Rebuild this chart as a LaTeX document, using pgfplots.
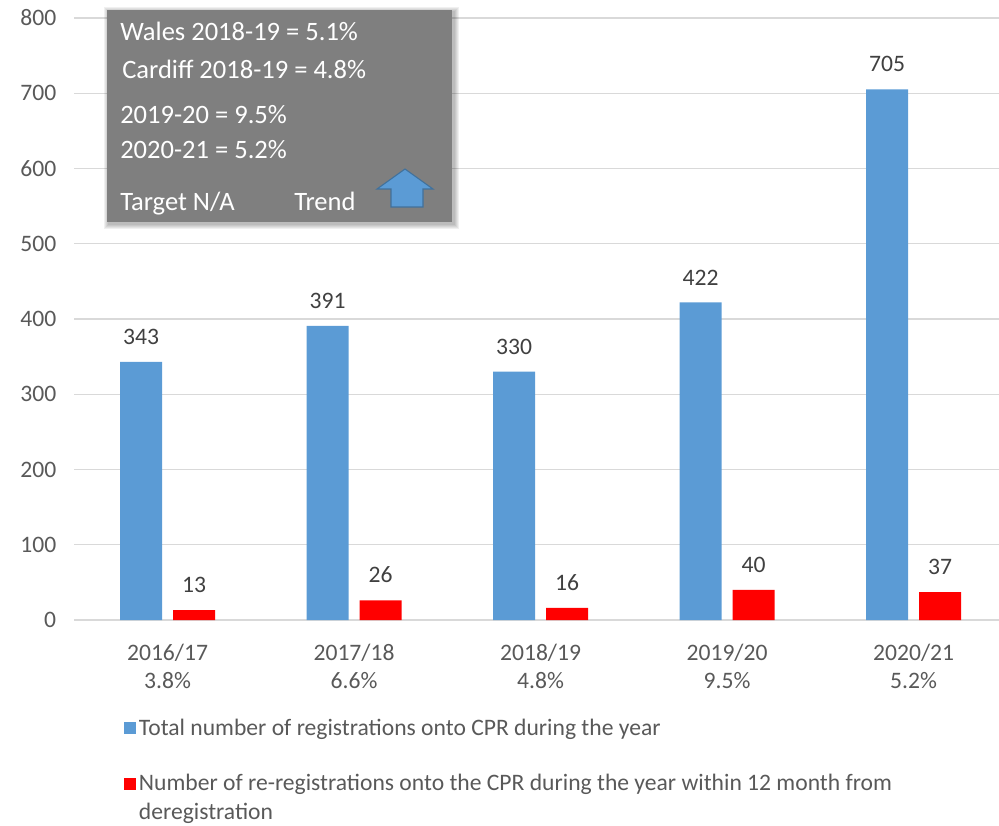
\documentclass[border=0pt]{standalone}
\usepackage{fontspec}
\setmainfont{Carlito}
\usepackage{pgfplots}
\pgfplotsset{compat=1.18}
\definecolor{cblue}{HTML}{5B9BD5}
\definecolor{cred}{HTML}{FF0000}
\definecolor{gridc}{HTML}{D9D9D9}
\definecolor{tickc}{HTML}{595959}
\definecolor{labc}{HTML}{404040}
\definecolor{boxc}{HTML}{7F7F7F}
\definecolor{arrowb}{HTML}{41719C}
\begin{document}
\begin{tikzpicture}
\useasboundingbox (0,0) rectangle (749.25pt,618.75pt);
\begin{axis}[
  at={(55.69pt,153.75pt)}, anchor=south west,
  scale only axis, width=693.56pt, height=451.5pt,
  ybar, bar width=31.5pt,
  xmin=-0.5, xmax=4.458, ymin=0, ymax=800,
  xtick={0,1,2,3,4},
  xticklabels={{2016/17\\3.8\%},{2017/18\\6.6\%},{2018/19\\4.8\%},{2019/20\\9.5\%},{2020/21\\5.2\%}},
  xticklabel style={align=center, yshift=-14.5pt},
  yticklabel style={xshift=-10pt},
  ytick={0,100,...,800},
  ymajorgrids, grid style={gridc, line width=1pt},
  axis x line*=bottom, axis y line*=left,
  x axis line style={gridc, line width=1.2pt, -},
  y axis line style={draw=none},
  major tick length=0pt,
  tick label style={font=\fontsize{17.7}{21}\selectfont, text=tickc},
  /pgf/number format/assume math mode=true,
  nodes near coords,
  nodes near coords style={font=\fontsize{17.7}{21}\selectfont, text=labc, yshift=9.5pt},
  legend style={at={(0.0495,-0.157)}, anchor=north west, draw=none, fill=none,
    font=\fontsize{17.7}{21}\selectfont, text=tickc, row sep=6pt,
    nodes={inner xsep=2pt, inner ysep=1pt}},
  legend cell align=left,
]
\addplot[fill=cblue, draw=none, bar shift=-19.875pt,
  legend image code/.code={\fill[cblue] (0pt,-4.5pt) rectangle (9pt,4.5pt);}]
  coordinates {(0,343) (1,391) (2,330) (3,422) (4,705)};
\addlegendentry{Total number of registrations onto CPR during the year}
\addlegendimage{empty legend}
\addlegendentry{\rule[-3pt]{0pt}{13.5pt}}
\addplot[fill=cred, draw=none, bar shift=19.875pt,
  legend image code/.code={\fill[cred] (0pt,-4.5pt) rectangle (9pt,4.5pt);}]
  coordinates {(0,13) (1,26) (2,16) (3,40) (4,37)};
\addlegendentry{Number of re-registrations onto the CPR during the year within 12 month from}
\addlegendimage{empty legend}
\addlegendentry{deregistration}
\end{axis}
% info box with soft shadow
\foreach \s in {1,2,3,4,5}{
  \fill[black, opacity=0.06] ({80.25pt-\s*0.8pt+1.5pt},{452.25pt-\s*0.8pt-1.5pt}) rectangle ({339pt+\s*0.8pt+1.5pt},{611.25pt+\s*0.8pt-1.5pt});
}
\fill[boxc] (80.25pt,452.25pt) rectangle (339pt,611.25pt);
\begin{scope}[every node/.style={anchor=base west, text=white, font=\fontsize{19.9}{24}\selectfont, inner sep=0pt}]
\node at (90pt,588.4pt) {Wales 2018-19 = 5.1\%};
\node at (91.5pt,559.9pt) {Cardiff 2018-19 = 4.8\%};
\node at (90pt,526.1pt) {2019-20 = 9.5\%};
\node at (90pt,499.9pt) {2020-21 = 5.2\%};
\node at (90pt,460.5pt) {Target N/A};
\node at (220.5pt,460.5pt) {Trend};
\end{scope}
\filldraw[fill=cblue, draw=arrowb, line width=0.8pt]
  (303.75pt,492pt) -- (324.75pt,477pt) -- (317.25pt,477pt) -- (317.25pt,463.5pt)
  -- (293.25pt,463.5pt) -- (293.25pt,477pt) -- (282.75pt,477pt) -- cycle;
\end{tikzpicture}
\end{document}
